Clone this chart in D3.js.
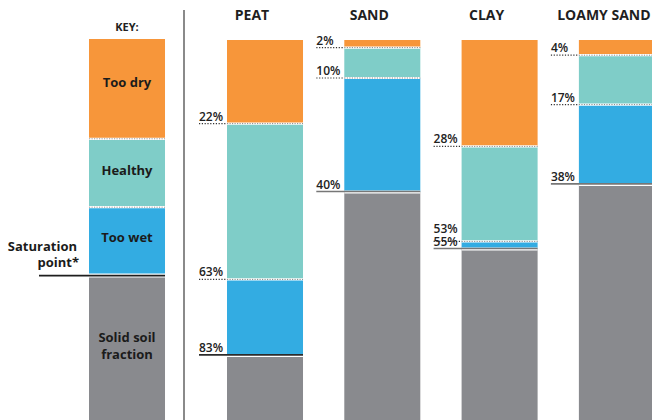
<!DOCTYPE html>
<html><head><meta charset="utf-8">
<script src="https://cdn.jsdelivr.net/npm/d3@7"></script>
<style>
html,body{margin:0;padding:0;background:#fff;}
svg{display:block;font-family:"Open Sans", Lato, sans-serif;}
</style></head>
<body>
<svg id="chart" width="652" height="420"></svg>
<script>
// ---- data ----
const soils = ["PEAT", "SAND", "CLAY", "LOAMY SAND"];
const tooDryEnd = [22, 2, 28, 4];      // % boundary between too dry and healthy
const healthyEnd = [63, 10, 53, 17];   // % boundary between healthy and too wet
const saturation = [83, 40, 55, 38];   // saturation point (%)
const keyLabels = ["Too dry", "Healthy", "Too wet", "Solid soil fraction"];
const keyBounds = [26, 44, 62];        // illustrative boundaries of the key bar

// ---- styles ----
const colors = ["#F7963A", "#7FCDC8", "#33ACE2", "#898A8E"];
const satLineColors = ["#2b2b2b", "#777", "#777", "#777"];

const svg = d3.select("#chart");
const y = d3.scaleLinear().domain([0, 100]).range([40, 420]);
const x = d3.scaleBand().domain(soils).range([227, 654.9]).paddingInner(0.352).paddingOuter(0);
const bw = x.bandwidth();
const keyX = 89;

// separator
svg.append("line").attr("x1", 184).attr("x2", 184).attr("y1", 10).attr("y2", 420)
  .attr("stroke", "#8a8a8a").attr("stroke-width", 2);

function segs(b) { return [[0, b[0]], [b[0], b[1]], [b[1], b[2]], [b[2], 100]]; }

function dotted(g, x0, x1, xb, yy, inner) {
  g.append("line").attr("x1", xb).attr("x2", x1).attr("y1", yy).attr("y2", yy)
    .attr("stroke", "#fff").attr("stroke-width", 2.2);
  g.append("line").attr("x1", xb).attr("x2", x1).attr("y1", yy).attr("y2", yy)
    .attr("stroke", inner).attr("stroke-width", 1).attr("stroke-dasharray", "1.2,1.3");
  if (x0 < xb) {
    g.append("line").attr("x1", x0).attr("x2", xb).attr("y1", yy).attr("y2", yy)
      .attr("stroke", "#333").attr("stroke-width", 1.2).attr("stroke-dasharray", "1.2,1.6");
  }
}

// ---- key ----
const kg = svg.append("g");
kg.append("text").attr("x", keyX + bw / 2).attr("y", 31).attr("text-anchor", "middle")
  .attr("font-size", 11).attr("font-weight", 700).attr("fill", "#222").text("KEY:");
segs(keyBounds).forEach((s, i) => {
  kg.append("rect").attr("x", keyX).attr("width", bw).attr("y", y(s[0]) - (i === 0 ? 1 : 0))
    .attr("height", y(s[1]) - y(s[0]) + (i === 0 ? 1 : 0)).attr("fill", colors[i]);
});
dotted(kg, keyX, keyX + bw, keyX, y(keyBounds[0]), "#999");
dotted(kg, keyX, keyX + bw, keyX, y(keyBounds[1]), "#999");
kg.append("line").attr("x1", keyX).attr("x2", keyX + bw).attr("y1", y(keyBounds[2])).attr("y2", y(keyBounds[2]))
  .attr("stroke", "#fff").attr("stroke-width", 4);
kg.append("line").attr("x1", 39).attr("x2", keyX + bw).attr("y1", y(keyBounds[2])).attr("y2", y(keyBounds[2]))
  .attr("stroke", "#1e1e1e").attr("stroke-width", 1.6);
const keyTextY = [87, 175, 242];
keyLabels.slice(0, 3).forEach((t, i) => {
  kg.append("text").attr("x", keyX + bw / 2).attr("y", keyTextY[i]).attr("text-anchor", "middle")
    .attr("font-size", 13).attr("font-weight", 700).attr("fill", "#1b1b1b").text(t);
});
const solid = kg.append("text").attr("x", keyX + bw / 2).attr("text-anchor", "middle")
  .attr("font-size", 13).attr("font-weight", 700).attr("fill", "#1b1b1b");
solid.append("tspan").attr("x", keyX + bw / 2).attr("y", 342).text("Solid soil");
solid.append("tspan").attr("x", keyX + bw / 2).attr("y", 359).text("fraction");
const sat = kg.append("text").attr("text-anchor", "end").attr("font-size", 13)
  .attr("font-weight", 700).attr("fill", "#1b1b1b");
sat.append("tspan").attr("x", 77).attr("y", 251).text("Saturation");
sat.append("tspan").attr("x", 79).attr("y", 267).text("point*");

// ---- soil bars ----
soils.forEach((soil, i) => {
  const g = svg.append("g");
  const x0 = x(soil);
  const b = [tooDryEnd[i], healthyEnd[i], saturation[i]];
  g.append("text").attr("x", x0 + bw / 2 - 13).attr("y", 20).attr("text-anchor", "middle")
    .attr("font-size", 14).attr("font-weight", 700).attr("fill", "#1f1f1f").text(soil);
  segs(b).forEach((s, j) => {
    g.append("rect").attr("x", x0).attr("width", bw).attr("y", y(s[0]))
      .attr("height", y(s[1]) - y(s[0])).attr("fill", colors[j]);
  });
  const lx = x0 - 28;
  dotted(g, lx, x0 + bw, x0, y(b[0]), "#888");
  dotted(g, lx, x0 + bw, x0, y(b[1]), "#888");
  g.append("line").attr("x1", x0).attr("x2", x0 + bw).attr("y1", y(b[2])).attr("y2", y(b[2]))
    .attr("stroke", "#fff").attr("stroke-width", 3);
  g.append("line").attr("x1", lx).attr("x2", x0 + bw).attr("y1", y(b[2]) - 0.5).attr("y2", y(b[2]) - 0.5)
    .attr("stroke", satLineColors[i]).attr("stroke-width", 1.6);
  // labels, placed from the bottom up so close ones do not collide
  let prev = Infinity;
  const ys = [];
  for (let k = b.length - 1; k >= 0; k--) {
    const by = Math.min(y(b[k]) - 3, prev - 13);
    ys[k] = by; prev = by;
  }
  b.forEach((v, k) => {
    g.append("text").attr("x", lx).attr("y", ys[k]).attr("font-size", 12)
      .attr("font-weight", 600).attr("fill", "#222").text(v + "%");
  });
});
</script>
</body></html>
